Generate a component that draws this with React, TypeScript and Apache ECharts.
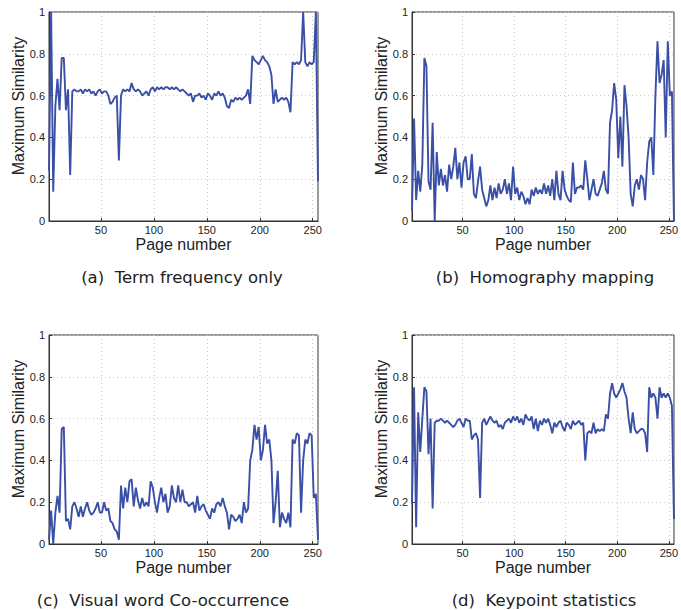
import React, { useEffect, useRef } from "react";
import * as echarts from "echarts";

// Page sampled every two pages: 1, 3, 5, ..., 255
const termFrequency = [
  0.24, 1.0, 0.14, 0.55, 0.68, 0.53, 0.78, 0.78, 0.53, 0.63, 0.22, 0.62, 0.63, 0.62, 0.62, 0.63,
  0.61, 0.63, 0.62, 0.63, 0.61, 0.62, 0.6, 0.62, 0.63, 0.61, 0.62, 0.62, 0.6, 0.56, 0.57, 0.59,
  0.6, 0.29, 0.6, 0.63, 0.62, 0.63, 0.62, 0.66, 0.63, 0.62, 0.63, 0.62, 0.6, 0.61, 0.62, 0.6,
  0.63, 0.64, 0.62, 0.64, 0.63, 0.64, 0.63, 0.64, 0.64, 0.63, 0.64, 0.63, 0.64, 0.63, 0.62, 0.63,
  0.62,
  0.61, 0.6, 0.61, 0.57, 0.6, 0.6, 0.61, 0.59, 0.6, 0.58, 0.61, 0.6, 0.58, 0.61, 0.6, 0.62,
  0.6, 0.61, 0.59, 0.55, 0.54, 0.58, 0.57, 0.59, 0.58, 0.59, 0.58, 0.59, 0.6, 0.63, 0.56, 0.79,
  0.77, 0.76, 0.75, 0.77, 0.79, 0.77, 0.76, 0.74, 0.7, 0.56, 0.63, 0.57, 0.58, 0.59, 0.58, 0.59,
  0.57, 0.52, 0.76, 0.75, 0.76, 0.75, 0.77, 1.0, 0.76, 0.74, 0.76, 0.75, 0.76, 1.0, 0.19,
];

const homography = [
  0.05, 0.49, 0.1, 0.24, 0.14, 0.27, 0.78, 0.74, 0.19, 0.15, 0.47, 0.0, 0.33, 0.17, 0.25, 0.17,
  0.22, 0.14, 0.27, 0.2, 0.26, 0.35, 0.2, 0.28, 0.16, 0.28, 0.31, 0.2, 0.2, 0.32, 0.13, 0.11,
  0.19, 0.26, 0.15, 0.11, 0.07, 0.1, 0.17, 0.1, 0.16, 0.11, 0.18, 0.13, 0.15, 0.2, 0.13, 0.18,
  0.1, 0.26, 0.13, 0.16, 0.1, 0.14, 0.12, 0.08, 0.11, 0.08, 0.15, 0.12, 0.16, 0.13, 0.15, 0.13,
  0.18,
  0.13, 0.17, 0.12, 0.2, 0.1, 0.24, 0.13, 0.1, 0.24, 0.15, 0.12, 0.1, 0.09, 0.28, 0.13, 0.16,
  0.16, 0.17, 0.15, 0.29, 0.2, 0.1, 0.15, 0.2, 0.13, 0.12, 0.15, 0.18, 0.24, 0.15, 0.13, 0.47,
  0.53, 0.66, 0.58, 0.3, 0.5, 0.26, 0.65, 0.55, 0.4, 0.13, 0.07, 0.17, 0.2, 0.15, 0.22, 0.2,
  0.1, 0.28, 0.38, 0.4, 0.22, 0.6, 0.86, 0.66, 0.7, 0.77, 0.4, 0.86, 0.6, 0.62, 0.0,
];

const coOccurrence = [
  0.02, 0.16, 0.0, 0.15, 0.23, 0.15, 0.55, 0.56, 0.11, 0.12, 0.07, 0.18, 0.2, 0.17, 0.13, 0.18,
  0.13, 0.17, 0.2, 0.16, 0.14, 0.15, 0.17, 0.2, 0.15, 0.15, 0.2, 0.16, 0.17, 0.11, 0.1, 0.07,
  0.06, 0.02, 0.28, 0.17, 0.27, 0.2, 0.3, 0.31, 0.18, 0.27, 0.21, 0.17, 0.22, 0.18, 0.2, 0.18,
  0.3, 0.27, 0.2, 0.15, 0.22, 0.27, 0.2, 0.24, 0.15, 0.18, 0.28, 0.22, 0.2, 0.28, 0.2, 0.26,
  0.2,
  0.2, 0.18, 0.19, 0.2, 0.15, 0.23, 0.16, 0.18, 0.19, 0.16, 0.14, 0.12, 0.17, 0.15, 0.19, 0.2,
  0.18, 0.22, 0.18, 0.15, 0.07, 0.14, 0.13, 0.11, 0.12, 0.14, 0.1, 0.2, 0.15, 0.17, 0.4, 0.45,
  0.57, 0.5, 0.56, 0.4, 0.45, 0.57, 0.48, 0.5, 0.4, 0.1, 0.2, 0.35, 0.08, 0.15, 0.12, 0.1,
  0.15, 0.08, 0.5, 0.48, 0.53, 0.52, 0.15, 0.4, 0.5, 0.48, 0.53, 0.52, 0.22, 0.24, 0.02,
];

const keypointStats = [
  0.19, 0.75, 0.08, 0.63, 0.44, 0.6, 0.75, 0.73, 0.43, 0.6, 0.17, 0.58, 0.59, 0.59, 0.6, 0.59,
  0.58, 0.59, 0.58, 0.57, 0.56, 0.57, 0.59, 0.6, 0.58, 0.56, 0.6, 0.59, 0.59, 0.5, 0.52, 0.53,
  0.5, 0.22, 0.58, 0.6, 0.57, 0.59, 0.61, 0.59, 0.58, 0.59, 0.56, 0.57, 0.55, 0.58, 0.59, 0.6,
  0.58, 0.61, 0.59, 0.61, 0.58, 0.6, 0.57, 0.62, 0.6, 0.59, 0.61, 0.55, 0.6, 0.54, 0.59, 0.57,
  0.6,
  0.58, 0.6, 0.57, 0.53, 0.58, 0.56, 0.58, 0.59, 0.56, 0.54, 0.58, 0.57, 0.55, 0.59, 0.57, 0.58,
  0.59, 0.57, 0.58, 0.4, 0.53, 0.54, 0.53, 0.58, 0.53, 0.55, 0.54, 0.55, 0.54, 0.62, 0.6, 0.72,
  0.77, 0.72, 0.7, 0.72, 0.74, 0.77, 0.73, 0.7, 0.6, 0.53, 0.63, 0.55, 0.53, 0.54, 0.55, 0.55,
  0.53, 0.44, 0.75, 0.7, 0.72, 0.7, 0.6, 0.75, 0.7, 0.72, 0.7, 0.72, 0.7, 0.66, 0.12,
];

const pageTicks = [50, 100, 150, 200, 250];
const captions = [
  "(a)  Term frequency only",
  "(b)  Homography mapping",
  "(c)  Visual word Co-occurrence",
  "(d)  Keypoint statistics",
];
const yLabel = "Maximum Similarity";
const seriesList = [termFrequency, homography, coOccurrence, keypointStats];

const LINE = "#3a4fa6";
const AXIS_FONT = "Liberation Sans, Arial, Helvetica, sans-serif";
const CAP_FONT = "DejaVu Sans, sans-serif";

const grids = [
  { left: 49, top: 12, width: 269, height: 209 },
  { left: 412, top: 12, width: 269, height: 209 },
  { left: 49, top: 335, width: 269, height: 209 },
  { left: 412, top: 335, width: 269, height: 209 },
];
const captionPos = [
  { x: 182, y: 277 },
  { x: 545, y: 277 },
  { x: 163, y: 600 },
  { x: 544, y: 600 },
];
const yLabelPos = [
  { x: 18, y: 106 },
  { x: 381, y: 106 },
  { x: 18, y: 429 },
  { x: 381, y: 429 },
];

export default function App() {
  const ref = useRef<HTMLDivElement>(null);
  useEffect(() => {
    if (!ref.current) return;
    const chart = echarts.init(ref.current, undefined, { renderer: "svg" });
    const toPairs = (vals: number[]) => vals.map((v, i) => [1 + 2 * i, v]);
    chart.setOption({
      animation: false,
      backgroundColor: "#ffffff",
      grid: grids.map((g) => ({
        ...g,
        show: true,
        borderColor: "#333",
        borderWidth: 1,
        backgroundColor: "transparent",
        containLabel: false,
      })),
      xAxis: grids.map((_, i) => ({
        type: "value",
        gridIndex: i,
        min: 1,
        max: 255,
        name: "Page number",
        nameLocation: "middle",
        nameGap: 15,
        nameTextStyle: { fontFamily: AXIS_FONT, fontSize: 16, color: "#222" },
        axisLine: { show: true, onZero: false, lineStyle: { color: "#333", width: 1 } },
        axisTick: { show: true, inside: true, length: 3, customValues: pageTicks, lineStyle: { color: "#333" } },
        axisLabel: {
          customValues: pageTicks,
          fontFamily: AXIS_FONT,
          fontSize: 11,
          color: "#222",
          margin: 3,
        },
        splitLine: { show: true, lineStyle: { color: "#c8c8c8", type: [1, 3], width: 1 } },
      })),
      yAxis: grids.map((_, i) => ({
        type: "value",
        gridIndex: i,
        min: 0,
        max: 1,
        interval: 0.2,
        axisLine: { show: true, lineStyle: { color: "#333", width: 1 } },
        axisTick: { show: true, inside: true, length: 3, lineStyle: { color: "#333" } },
        axisLabel: { fontFamily: AXIS_FONT, fontSize: 11, color: "#222", margin: 4 },
        splitLine: { show: true, lineStyle: { color: "#c8c8c8", type: [1, 3], width: 1 } },
      })),
      series: seriesList.map((vals, i) => ({
        type: "line",
        xAxisIndex: i,
        yAxisIndex: i,
        data: toPairs(vals),
        showSymbol: false,
        symbol: "none",
        lineStyle: { color: LINE, width: 1.9 },
        clip: true,
      })),
      graphic: [
        ...captions.map((t, i) => ({
          type: "text",
          x: captionPos[i].x,
          y: captionPos[i].y,
          style: {
            text: t,
            fontFamily: CAP_FONT,
            fontSize: 16.5,
            fill: "#222",
            align: "center",
            verticalAlign: "middle",
          },
        })),
        ...yLabelPos.map((p) => ({
          type: "text",
          x: p.x,
          y: p.y,
          rotation: Math.PI / 2,
          style: {
            text: yLabel,
            fontFamily: AXIS_FONT,
            fontSize: 16,
            fill: "#222",
            align: "center",
            verticalAlign: "middle",
          },
        })),
      ],
    });
    return () => chart.dispose();
  }, []);
  return (
    <div
      ref={ref}
      style={{ position: "absolute", left: 0, top: 0, width: 681, height: 610 }}
    />
  );
}
